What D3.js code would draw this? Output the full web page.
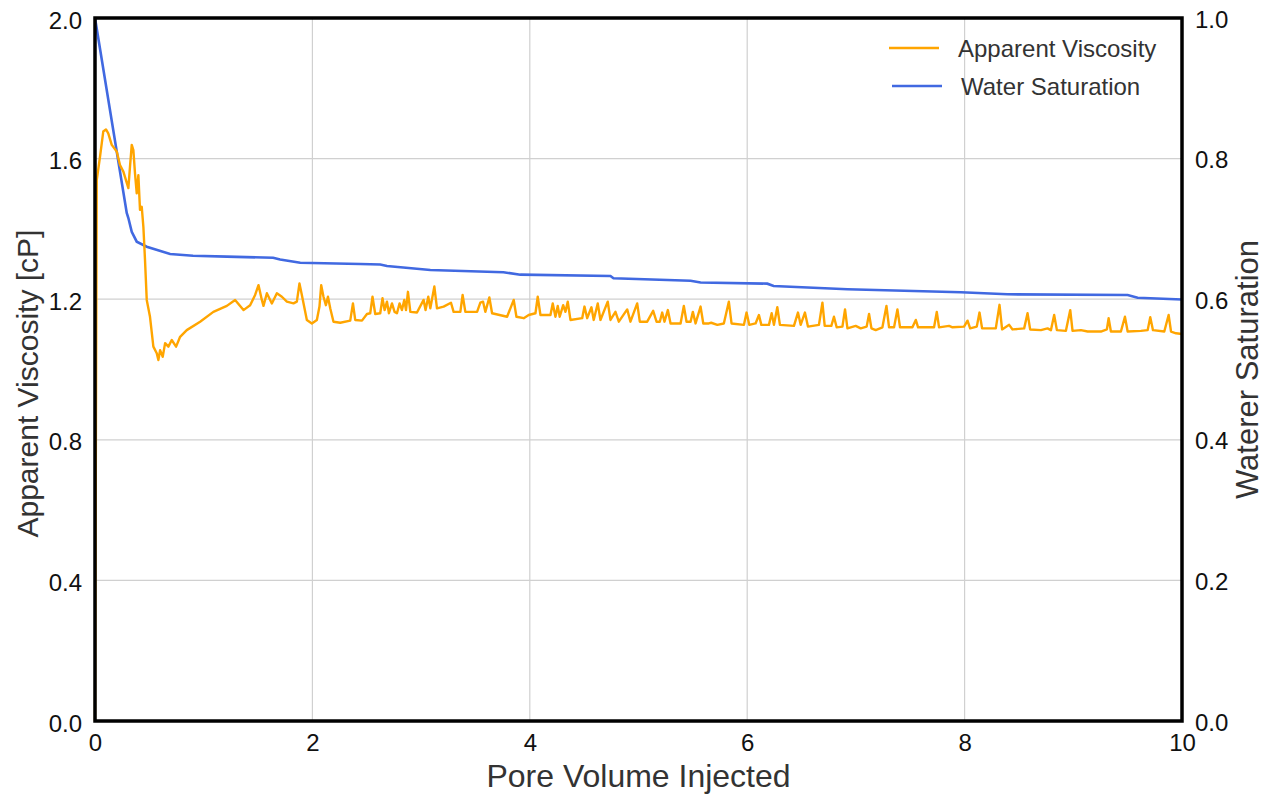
<!DOCTYPE html>
<html>
<head>
<meta charset="utf-8">
<script src="https://cdn.jsdelivr.net/npm/d3@7"></script>
<style>
  body { margin: 0; background: #fff; }
  svg { display: block; font-family: "Liberation Sans", Arial, sans-serif; }
</style>
</head>
<body>
<svg id="chart"></svg>
<script>
const width = 1274;
const height = 796;
const margin = { top: 18, right: 92, bottom: 75, left: 95 };

// pore volume injected vs apparent viscosity [cP]
const pvVisc = [0, 0.016, 0.046, 0.076, 0.101, 0.122, 0.154, 0.200, 0.230, 0.261, 0.307, 0.322, 0.338, 0.353, 0.368, 0.384, 0.399, 0.414, 0.430, 0.445, 0.460, 0.476, 0.506, 0.537, 0.568, 0.583, 0.599, 0.623, 0.645, 0.675, 0.706, 0.746, 0.783, 0.844, 0.967, 1.089, 1.213, 1.289, 1.366, 1.427, 1.473, 1.504, 1.535, 1.550, 1.581, 1.627, 1.673, 1.719, 1.765, 1.826, 1.857, 1.881, 1.903, 1.949, 1.995, 2.041, 2.065, 2.081, 2.102, 2.124, 2.143, 2.164, 2.194, 2.256, 2.348, 2.373, 2.394, 2.456, 2.502, 2.532, 2.553, 2.578, 2.624, 2.645, 2.664, 2.686, 2.704, 2.732, 2.756, 2.778, 2.802, 2.824, 2.845, 2.861, 2.879, 2.901, 2.962, 3.023, 3.041, 3.066, 3.085, 3.122, 3.146, 3.207, 3.275, 3.299, 3.361, 3.382, 3.407, 3.515, 3.545, 3.570, 3.591, 3.628, 3.653, 3.791, 3.852, 3.877, 3.944, 3.990, 4.052, 4.073, 4.098, 4.190, 4.211, 4.236, 4.257, 4.275, 4.307, 4.328, 4.349, 4.374, 4.482, 4.503, 4.528, 4.567, 4.588, 4.625, 4.650, 4.717, 4.742, 4.788, 4.819, 4.896, 4.926, 4.988, 5.012, 5.080, 5.135, 5.166, 5.196, 5.218, 5.239, 5.270, 5.295, 5.387, 5.417, 5.442, 5.479, 5.500, 5.525, 5.571, 5.596, 5.647, 5.669, 5.725, 5.785, 5.831, 5.856, 5.970, 5.994, 6.019, 6.077, 6.108, 6.130, 6.200, 6.225, 6.246, 6.277, 6.301, 6.430, 6.467, 6.492, 6.531, 6.559, 6.660, 6.692, 6.713, 6.774, 6.798, 6.823, 6.876, 6.900, 6.922, 6.998, 7.044, 7.099, 7.121, 7.143, 7.182, 7.244, 7.281, 7.305, 7.351, 7.382, 7.406, 7.520, 7.551, 7.572, 7.719, 7.744, 7.765, 7.857, 7.889, 7.995, 8.027, 8.051, 8.112, 8.137, 8.161, 8.287, 8.321, 8.345, 8.410, 8.441, 8.548, 8.579, 8.603, 8.702, 8.763, 8.794, 8.824, 8.849, 8.932, 8.972, 8.993, 9.070, 9.132, 9.254, 9.309, 9.325, 9.346, 9.438, 9.475, 9.500, 9.622, 9.684, 9.708, 9.733, 9.837, 9.877, 9.899, 9.945, 10.0];
const viscosity = [0.0, 1.539, 1.605, 1.677, 1.683, 1.672, 1.639, 1.620, 1.582, 1.563, 1.516, 1.577, 1.639, 1.624, 1.558, 1.501, 1.553, 1.454, 1.463, 1.406, 1.312, 1.198, 1.150, 1.065, 1.046, 1.027, 1.055, 1.036, 1.075, 1.065, 1.084, 1.065, 1.093, 1.112, 1.136, 1.164, 1.181, 1.198, 1.169, 1.183, 1.212, 1.240, 1.198, 1.181, 1.217, 1.188, 1.217, 1.207, 1.193, 1.188, 1.193, 1.245, 1.212, 1.141, 1.131, 1.141, 1.179, 1.240, 1.207, 1.183, 1.207, 1.174, 1.136, 1.133, 1.139, 1.188, 1.141, 1.139, 1.158, 1.160, 1.207, 1.158, 1.160, 1.203, 1.169, 1.193, 1.160, 1.188, 1.164, 1.160, 1.188, 1.169, 1.198, 1.169, 1.221, 1.164, 1.162, 1.198, 1.169, 1.207, 1.174, 1.236, 1.174, 1.179, 1.190, 1.164, 1.164, 1.212, 1.164, 1.164, 1.190, 1.193, 1.164, 1.205, 1.160, 1.150, 1.198, 1.150, 1.146, 1.155, 1.160, 1.207, 1.155, 1.155, 1.188, 1.150, 1.181, 1.150, 1.183, 1.164, 1.193, 1.141, 1.146, 1.179, 1.146, 1.177, 1.141, 1.188, 1.141, 1.193, 1.141, 1.164, 1.136, 1.171, 1.136, 1.188, 1.136, 1.136, 1.167, 1.136, 1.136, 1.162, 1.136, 1.169, 1.131, 1.131, 1.181, 1.136, 1.136, 1.164, 1.131, 1.179, 1.131, 1.131, 1.133, 1.127, 1.131, 1.193, 1.131, 1.127, 1.162, 1.127, 1.131, 1.155, 1.127, 1.127, 1.160, 1.127, 1.177, 1.127, 1.124, 1.162, 1.127, 1.162, 1.122, 1.127, 1.190, 1.124, 1.124, 1.150, 1.120, 1.122, 1.171, 1.117, 1.124, 1.117, 1.122, 1.158, 1.117, 1.112, 1.120, 1.181, 1.120, 1.120, 1.171, 1.120, 1.120, 1.141, 1.120, 1.120, 1.164, 1.120, 1.124, 1.120, 1.122, 1.139, 1.117, 1.122, 1.162, 1.117, 1.117, 1.184, 1.114, 1.127, 1.114, 1.117, 1.160, 1.114, 1.112, 1.117, 1.112, 1.155, 1.112, 1.110, 1.169, 1.110, 1.112, 1.108, 1.108, 1.114, 1.146, 1.108, 1.108, 1.150, 1.108, 1.110, 1.112, 1.149, 1.112, 1.108, 1.155, 1.108, 1.103, 1.101];

// pore volume injected vs water saturation
const pvSat = [0, 0.292, 0.307, 0.338, 0.384, 0.476, 0.691, 0.902, 1.213, 1.639, 1.703, 1.888, 2.440, 2.624, 2.686, 3.085, 3.757, 3.913, 4.742, 4.770, 5.479, 5.571, 6.185, 6.243, 6.922, 7.965, 8.395, 9.500, 9.592, 10.0];
const saturation = [1.0, 0.7226, 0.7155, 0.696, 0.6818, 0.6747, 0.6643, 0.6619, 0.6605, 0.6590, 0.6565, 0.6519, 0.6501, 0.6494, 0.6472, 0.6415, 0.6383, 0.6349, 0.6330, 0.6297, 0.6263, 0.6238, 0.6221, 0.6188, 0.6141, 0.6098, 0.6070, 0.6060, 0.6021, 0.5996];

const xTicks = [0, 2, 4, 6, 8, 10];
const yLeftTicks = [0, 0.4, 0.8, 1.2, 1.6, 2.0];
const yRightTicks = [0, 0.2, 0.4, 0.6, 0.8, 1.0];
const seriesNames = ["Apparent Viscosity", "Water Saturation"];
const seriesColors = ["#ffa500", "#4169e1"];

const svg = d3.select("#chart")
    .attr("width", width)
    .attr("height", height);

const innerW = width - margin.left - margin.right;
const innerH = height - margin.top - margin.bottom;

const xScale = d3.scaleLinear().domain([0, 10]).range([margin.left, margin.left + innerW]);
const yLeft = d3.scaleLinear().domain([0, 2]).range([margin.top + innerH, margin.top]);
const yRight = d3.scaleLinear().domain([0, 1]).range([margin.top + innerH, margin.top]);

// grid
const grid = svg.append("g").attr("class", "grid");
grid.selectAll(".vgrid")
    .data(xTicks.slice(1, -1))
    .enter()
    .append("line")
    .attr("x1", d => xScale(d)).attr("x2", d => xScale(d))
    .attr("y1", margin.top).attr("y2", margin.top + innerH)
    .attr("stroke", "#d0d0d0").attr("stroke-width", 1.2);
grid.selectAll(".hgrid")
    .data(yLeftTicks.slice(1, -1))
    .enter()
    .append("line")
    .attr("x1", margin.left).attr("x2", margin.left + innerW)
    .attr("y1", d => yLeft(d)).attr("y2", d => yLeft(d))
    .attr("stroke", "#d0d0d0").attr("stroke-width", 1.2);

// lines
const viscLine = d3.line()
    .x((d, i) => xScale(pvVisc[i]))
    .y(d => yLeft(d));
const satLine = d3.line()
    .x((d, i) => xScale(pvSat[i]))
    .y(d => yRight(d));

svg.append("path")
    .datum(saturation)
    .attr("fill", "none")
    .attr("stroke", seriesColors[1])
    .attr("stroke-width", 2.6)
    .attr("d", satLine);

svg.append("path")
    .datum(viscosity)
    .attr("fill", "none")
    .attr("stroke", seriesColors[0])
    .attr("stroke-width", 2.4)
    .attr("stroke-linejoin", "round")
    .attr("d", viscLine);

// frame
svg.append("rect")
    .attr("x", margin.left).attr("y", margin.top)
    .attr("width", innerW).attr("height", innerH)
    .attr("fill", "none")
    .attr("stroke", "#000")
    .attr("stroke-width", 3.5);

// axes
const xAxis = d3.axisBottom(xScale).tickValues(xTicks).tickSize(0).tickPadding(14).tickFormat(d3.format("d"));
const leftAxis = d3.axisLeft(yLeft).tickValues(yLeftTicks).tickSize(0).tickPadding(13).tickFormat(d3.format(".1f"));
const rightAxis = d3.axisRight(yRight).tickValues(yRightTicks).tickSize(0).tickPadding(13).tickFormat(d3.format(".1f"));

const gx = svg.append("g")
    .attr("transform", `translate(0, ${margin.top + innerH})`)
    .call(xAxis);
const gl = svg.append("g")
    .attr("transform", `translate(${margin.left}, 0)`)
    .call(leftAxis);
const gr = svg.append("g")
    .attr("transform", `translate(${margin.left + innerW}, 0)`)
    .call(rightAxis);

[gx, gl, gr].forEach(g => {
    g.select(".domain").remove();
    g.selectAll("text")
        .attr("font-size", 24)
        .attr("fill", "#111")
        .attr("font-family", "Liberation Sans, Arial, sans-serif");
});
gx.selectAll("text").attr("dy", "0.68em");
gl.selectAll("text").attr("dy", "0.42em");
gr.selectAll("text").attr("dy", "0.38em");

// axis titles
svg.append("text")
    .attr("x", xScale(5))
    .attr("y", 787)
    .attr("text-anchor", "middle")
    .attr("font-size", 32)
    .attr("fill", "#333")
    .text("Pore Volume Injected");

svg.append("text")
    .attr("transform", `translate(38, ${yLeft(0.96)}) rotate(-90)`)
    .attr("text-anchor", "middle")
    .attr("font-size", 30)
    .attr("fill", "#333")
    .text("Apparent Viscosity [cP]");

svg.append("text")
    .attr("transform", `translate(1258, ${yRight(0.5)}) rotate(-90)`)
    .attr("text-anchor", "middle")
    .attr("font-size", 31)
    .attr("fill", "#333")
    .text("Waterer Saturation");

// legend
const legend = svg.append("g").attr("transform", "translate(889, 48)");
const items = legend.selectAll("g")
    .data(seriesNames)
    .enter()
    .append("g")
    .attr("transform", (d, i) => `translate(${i * 3}, ${i * 38})`);
items.append("line")
    .attr("x1", 0).attr("x2", 50)
    .attr("y1", 0).attr("y2", 0)
    .attr("stroke", (d, i) => seriesColors[i])
    .attr("stroke-width", 2.6);
items.append("text")
    .attr("x", 69)
    .attr("dy", "0.36em")
    .attr("font-size", 24)
    .attr("fill", "#333")
    .text(d => d);
</script>
</body>
</html>
